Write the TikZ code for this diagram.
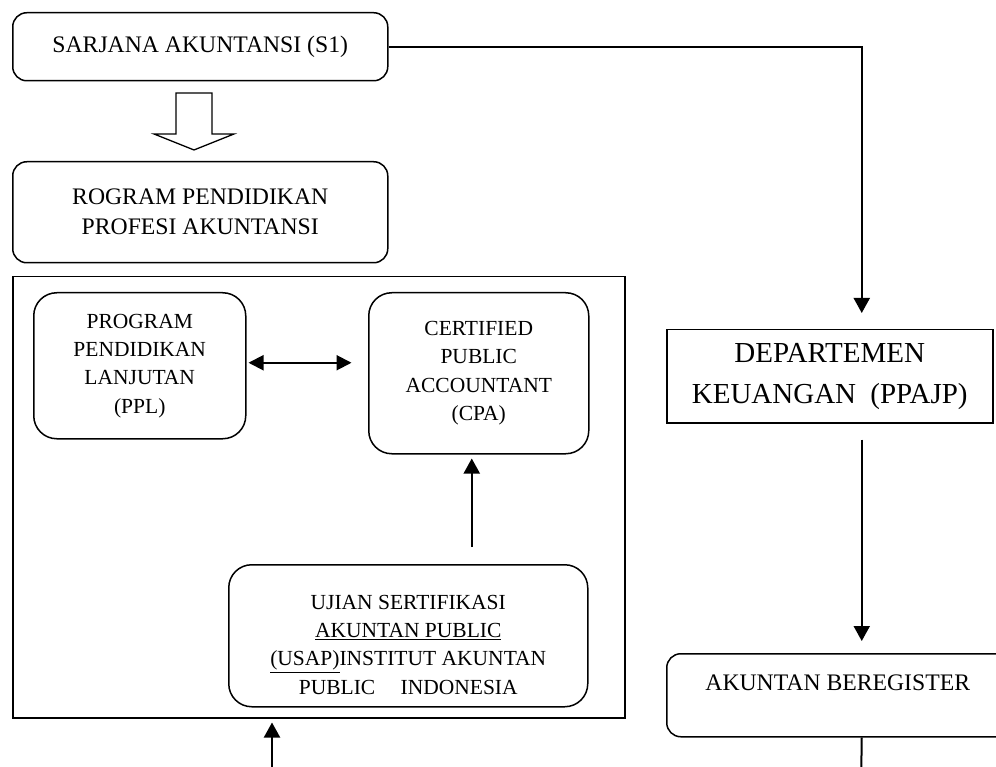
\documentclass[tikz,border=0pt]{standalone}
\usepackage{fontspec}
\setmainfont{Liberation Serif}
\usetikzlibrary{arrows.meta}
\begin{document}
\begin{tikzpicture}[x=1pt,y=-1pt,
  boxline/.style={draw, line width=1.5pt, inner sep=0pt, align=center},
  rsmall/.style={boxline, rounded corners=14pt},
  rbig/.style={boxline, rounded corners=23pt},
  sbox/.style={boxline},
  fbig/.style={font=\fontsize{23.7}{30}\selectfont},
  fmid/.style={font=\fontsize{21.5}{28.3}\selectfont},
  fdep/.style={font=\fontsize{29}{41}\selectfont},
  conn/.style={line width=2pt},
  arr/.style={conn, -{Triangle[length=15pt,width=16pt]}},
  darr/.style={conn, {Triangle[length=15pt,width=15pt]}-{Triangle[length=15pt,width=15pt]}}
]
\useasboundingbox (0,0) rectangle (996,767);
\clip (0,0) rectangle (996,767);

% boxes
\node[rsmall, fbig, minimum width=375pt, minimum height=68pt, anchor=north west] (s1) at (12,12) {SARJANA AKUNTANSI (S1)};
\node[rsmall, fbig, minimum width=375pt, minimum height=101pt, anchor=north west] (prog) at (12,161) {ROGRAM PENDIDIKAN\\PROFESI AKUNTANSI};
\node[sbox, minimum width=612pt, minimum height=441pt, anchor=north west] (frame) at (12,276) {};
\node[rbig, fmid, minimum width=212pt, minimum height=146pt, anchor=north west] (ppl) at (33,292) {PROGRAM\\PENDIDIKAN\\LANJUTAN\\(PPL)};
\node[rbig, fmid, minimum width=220pt, minimum height=161pt, anchor=north west] (cpa) at (368,292) {CERTIFIED\\PUBLIC\\ACCOUNTANT\\(CPA)};
\node[rbig, minimum width=359pt, minimum height=142pt, anchor=north west,
  label={[name=usapt, fmid, align=center, yshift=-9pt]center:{UJIAN SERTIFIKASI\\\underline{AKUNTAN PUBLIC}\\\underline{(USAP)}INSTITUT AKUNTAN\\PUBLIC\hspace{20pt} INDONESIA}}] (usap) at (228,564) {};
\node[sbox, fdep, minimum width=326pt, minimum height=93pt, anchor=north west] (dep) at (666,329) {DEPARTEMEN\\KEUANGAN\hspace{7pt} (PPAJP)};
\node[rsmall, minimum width=390pt, minimum height=83pt, anchor=north west,
  label={[name=akbt, fbig, xshift=-24pt, yshift=12pt]center:{AKUNTAN BEREGISTER}}] (akb) at (666,653) {};

% hollow block arrow
\draw[line width=1.3pt, line join=miter] (176,93) -- (212,93) -- (212,134) -- (234,134) -- (194,150) -- (154,134) -- (176,134) -- cycle;

% connectors
\coordinate (bot1) at (272,790);
\coordinate (bot2) at (861,790);
\draw[arr] (s1.east) -| ([yshift=16pt]dep.north -| akb.north);
\draw[arr] ([yshift=-16pt]dep.south -| akb.north) -- ([yshift=12pt]akb.north);
\draw[conn] (akb.south) -- (bot2);
\draw[darr] ([xshift=2pt,yshift=3pt]ppl.east) -- ([xshift=105pt,yshift=3pt]ppl.east);
\draw[arr] ([xshift=-7pt]usap.north -| cpa.south) ++(0,-17) -- ([xshift=-7pt,yshift=-4pt]cpa.south);
\draw[arr] (bot1) -- ([yshift=-4pt]frame.south -| bot1);
\end{tikzpicture}
\end{document}
